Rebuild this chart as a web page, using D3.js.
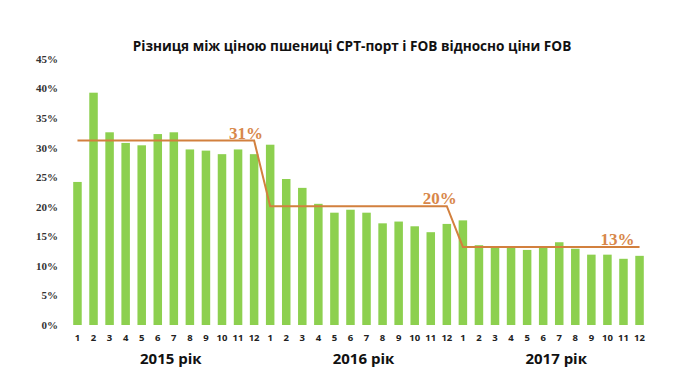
<!DOCTYPE html>
<html lang="uk">
<head>
<meta charset="UTF-8">
<title>Різниця між ціною пшениці CPT-порт і FOB</title>
<script src="https://d3js.org/d3.v7.min.js"></script>
<style>
  body { margin: 0; background: #fff; }
  svg { display: block; }
  .ytick { font-family: "Liberation Serif", "Times New Roman", serif; font-weight: bold; font-size: 11px; fill: #333; }
  .xtick { font-family: "Open Sans", "Noto Sans", sans-serif; font-weight: bold; font-size: 9.5px; fill: #222; }
  .year { font-family: "Open Sans", "Noto Sans", sans-serif; font-weight: bold; font-size: 15px; fill: #111; }
  .title { font-family: "Open Sans", "Noto Sans", sans-serif; font-weight: bold; font-size: 13.6px; fill: #111; }
  .avg { font-family: "Liberation Serif", "Times New Roman", serif; font-weight: bold; font-size: 17px; fill: #d8874a; }
</style>
</head>
<body>
<svg width="690" height="388"></svg>
<script>
// monthly values, % (Jan 2015 .. Dec 2017)
const years = ["2015 рік", "2016 рік", "2017 рік"];
const months = ["1","2","3","4","5","6","7","8","9","10","11","12"];
const values2015 = [24.2, 39.3, 32.6, 30.8, 30.4, 32.3, 32.6, 29.7, 29.5, 28.9, 29.7, 28.9];
const values2016 = [30.5, 24.7, 23.2, 20.5, 19.0, 19.5, 19.0, 17.2, 17.5, 16.7, 15.7, 17.1];
const values2017 = [17.7, 13.5, 13.2, 13.2, 12.7, 13.2, 14.0, 12.9, 11.9, 11.9, 11.2, 11.7];
const averages = [31.2, 20.1, 13.2];
const averageLabels = ["31%", "20%", "13%"];
const yTicks = [0, 5, 10, 15, 20, 25, 30, 35, 40, 45];

const data = [];
[values2015, values2016, values2017].forEach((vals, yi) => {
  vals.forEach((v, mi) => data.push({ key: yi + "-" + mi, year: yi, month: months[mi], value: v }));
});

const svg = d3.select("svg");
const margin = { left: 70, right: 43, top: 59, bottom: 63 };
const width = 690, height = 388;

let x = d3.scaleBand()
  .domain(data.map(d => d.key))
  .range([margin.left, width - margin.right])
  .paddingInner(0.47)
  .paddingOuter(0.2);

let y = d3.scaleLinear()
  .domain([0, 45])
  .range([height - margin.bottom, margin.top]);

// title
svg.append("text").attr("class", "title")
  .attr("x", 352).attr("y", 51)
  .attr("text-anchor", "middle")
  .text("Різниця між ціною пшениці CPT-порт і FOB відносно ціни FOB");

// y axis labels
svg.append("g").selectAll("text").data(yTicks).enter().append("text")
  .attr("class", "ytick")
  .attr("x", 58).attr("y", d => y(d)).attr("dy", "0.35em")
  .attr("text-anchor", "end")
  .text(d => d + "%");

// bars
svg.append("g").selectAll("rect").data(data).enter().append("rect")
  .attr("x", d => x(d.key))
  .attr("width", x.bandwidth())
  .attr("y", d => y(d.value))
  .attr("height", d => y(0) - y(d.value))
  .attr("fill", "#8dd04f");

// month labels
svg.append("g").selectAll("text").data(data).enter().append("text")
  .attr("class", "xtick")
  .attr("x", d => x(d.key) + x.bandwidth() / 2)
  .attr("y", 341)
  .attr("text-anchor", "middle")
  .text(d => d.month);

// year labels
const cx = d => x(d.key) + x.bandwidth() / 2;
years.forEach((label, yi) => {
  let grp = data.filter(d => d.year === yi);
  let mid = (cx(grp[0]) + cx(grp[grp.length - 1])) / 2 + 5;
  svg.append("text").attr("class", "year")
    .attr("x", mid).attr("y", 364)
    .attr("text-anchor", "middle")
    .text(label);
});

// average step line: flat across each year, sloping between years
const linePts = [];
years.forEach((label, yi) => {
  let grp = data.filter(d => d.year === yi);
  linePts.push([cx(grp[0]), y(averages[yi])]);
  linePts.push([cx(grp[grp.length - 1]), y(averages[yi])]);
});
svg.append("path")
  .attr("d", d3.line()(linePts))
  .attr("fill", "none")
  .attr("stroke", "#d2803e")
  .attr("stroke-width", 2);

// average labels, right edge near the end of each flat segment
const labelOffsets = [9, 10, -5];
years.forEach((label, yi) => {
  let grp = data.filter(d => d.year === yi);
  svg.append("text").attr("class", "avg")
    .attr("x", cx(grp[grp.length - 1]) + labelOffsets[yi])
    .attr("y", y(averages[yi]) - 2)
    .attr("text-anchor", "end")
    .text(averageLabels[yi]);
});
</script>
</body>
</html>
